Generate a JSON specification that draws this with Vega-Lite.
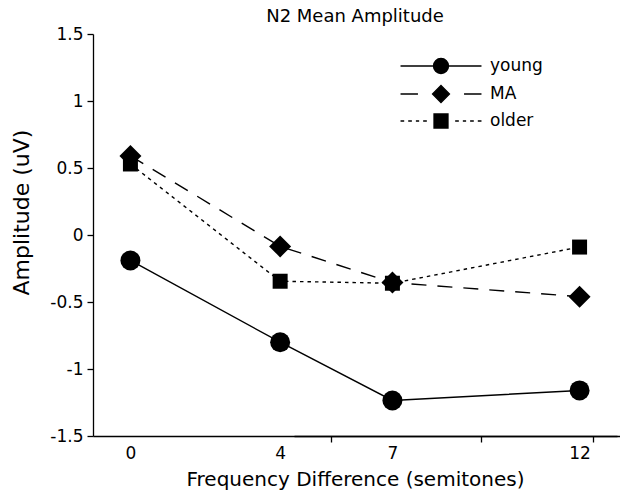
{
  "$schema": "https://vega.github.io/schema/vega-lite/v6.json",
  "width": 524,
  "height": 402,
  "autosize": "none",
  "padding": {"left": 93, "top": 34, "right": 3, "bottom": 57},
  "background": "white",
  "config": {
    "view": {"stroke": null},
    "font": "DejaVu Sans",
    "axis": {
      "domainColor": "black", "tickColor": "black", "labelColor": "black", "titleColor": "black",
      "grid": false, "labelFont": "DejaVu Sans", "titleFont": "DejaVu Sans",
      "titleFontWeight": "normal", "domainWidth": 1.3, "tickWidth": 1.3
    }
  },
  "title": {"text": "N2 Mean Amplitude", "fontSize": 18, "fontWeight": "normal", "font": "DejaVu Sans", "color": "black", "offset": -1},
  "data": {
    "values": [
      {"freq": 0, "group": "young", "amp": -0.19},
      {"freq": 4, "group": "young", "amp": -0.80},
      {"freq": 7, "group": "young", "amp": -1.235},
      {"freq": 12, "group": "young", "amp": -1.16},
      {"freq": 0, "group": "MA", "amp": 0.59},
      {"freq": 4, "group": "MA", "amp": -0.085},
      {"freq": 7, "group": "MA", "amp": -0.355},
      {"freq": 12, "group": "MA", "amp": -0.46},
      {"freq": 0, "group": "older", "amp": 0.53},
      {"freq": 4, "group": "older", "amp": -0.345},
      {"freq": 7, "group": "older", "amp": -0.36},
      {"freq": 12, "group": "older", "amp": -0.09}
    ]
  },
  "encoding": {
    "x": {
      "field": "freq", "type": "quantitative",
      "scale": {"domain": [-1, 13], "nice": false, "zero": false},
      "axis": null
    },
    "y": {
      "field": "amp", "type": "quantitative",
      "scale": {"domain": [-1.5, 1.5], "nice": false, "zero": false},
      "axis": {
        "values": [-1.5, -1, -0.5, 0, 0.5, 1, 1.5],
        "labelExpr": "'' + datum.value",
        "tickSize": 6, "labelFontSize": 17, "labelPadding": 4,
        "title": "Amplitude (uV)", "titleFontSize": 22,
        "titleX": -60, "titleY": 178, "titleAngle": 270, "titleBaseline": "bottom"
      }
    }
  },
  "layer": [
    {
      "transform": [{"filter": "datum.group == 'young'"}],
      "mark": {"type": "line", "color": "black", "strokeWidth": 1.4},
      "encoding": {
        "x": {
          "field": "freq", "type": "quantitative",
          "scale": {"domain": [-1, 13], "nice": false, "zero": false},
          "axis": {
            "orient": "bottom", "position": 201, "values": [0, 4, 7, 12, 13],
            "labels": false, "title": null, "tickSize": 6, "ticks": true, "domain": true
          }
        }
      }
    },
    {
      "transform": [{"filter": "datum.group == 'MA'"}],
      "mark": {"type": "line", "color": "black", "strokeWidth": 1.4, "strokeDash": [15, 11]},
      "encoding": {}
    },
    {
      "transform": [{"filter": "datum.group == 'older'"}],
      "mark": {"type": "line", "color": "black", "strokeWidth": 1.4, "strokeDash": [3.5, 4]},
      "encoding": {}
    },
    {
      "transform": [{"filter": "datum.group == 'young'"}],
      "mark": {"type": "point", "shape": "circle", "size": 400, "filled": true, "color": "black", "opacity": 1},
      "encoding": {
        "x": {
          "field": "freq", "type": "quantitative",
          "scale": {"domain": [-1, 13], "nice": false, "zero": false},
          "axis": {
            "orient": "bottom", "values": [0, 4, 7, 12], "labelExpr": "'' + datum.value",
            "ticks": false, "domain": true, "labelFontSize": 17, "labelPadding": 9,
            "title": "Frequency Difference (semitones)", "titleFontSize": 20, "titlePadding": 8
          }
        }
      }
    },
    {
      "transform": [{"filter": "datum.group == 'MA'"}],
      "mark": {"type": "point", "shape": "diamond", "size": 484, "filled": true, "color": "black", "opacity": 1},
      "encoding": {}
    },
    {
      "transform": [{"filter": "datum.group == 'older'"}],
      "mark": {"type": "point", "shape": "square", "size": 225, "filled": true, "color": "black", "opacity": 1},
      "encoding": {}
    },
    {
      "mark": {"type": "point", "filled": true, "color": "black", "strokeWidth": 1.3, "opacity": 0, "size": 256},
      "encoding": {
        "stroke": {
          "field": "group", "type": "nominal",
          "scale": {"domain": ["young", "MA", "older"], "range": ["black", "black", "black"]},
          "legend": null
        },
        "shape": {
          "field": "group", "type": "nominal",
          "scale": {
            "domain": ["young", "MA", "older"],
            "range": [
              "M-5.06,0L5.06,0M0.94,0A0.94,0.94,0,1,1,-0.94,0A0.94,0.94,0,1,1,0.94,0Z",
              "M-5.06,0L-2.88,0M2.88,0L5.06,0M0,-1.06L1.06,0L0,1.06L-1.06,0Z",
              "M-5.06,0L-4.6,0M-4.1,0L-3.64,0M-3.14,0L-2.73,0M-2.23,0L-1.77,0M1.77,0L2.23,0M2.73,0L3.14,0M3.64,0L4.1,0M4.6,0L5.06,0M-0.875,-0.875L0.875,-0.875L0.875,0.875L-0.875,0.875Z"
            ]
          },
          "legend": {
            "orient": "none", "legendX": 339, "legendY": 23, "title": null, "padding": 0,
            "labelFont": "DejaVu Sans", "labelFontSize": 17, "labelColor": "black", "labelOffset": 40, "rowPadding": 5,
            "symbolSize": 256, "symbolStrokeWidth": 1.3, "symbolStrokeColor": "black",
            "symbolFillColor": "black", "symbolOpacity": 1
          }
        }
      }
    }
  ],
  "resolve": {"axis": {"x": "independent"}}
}
